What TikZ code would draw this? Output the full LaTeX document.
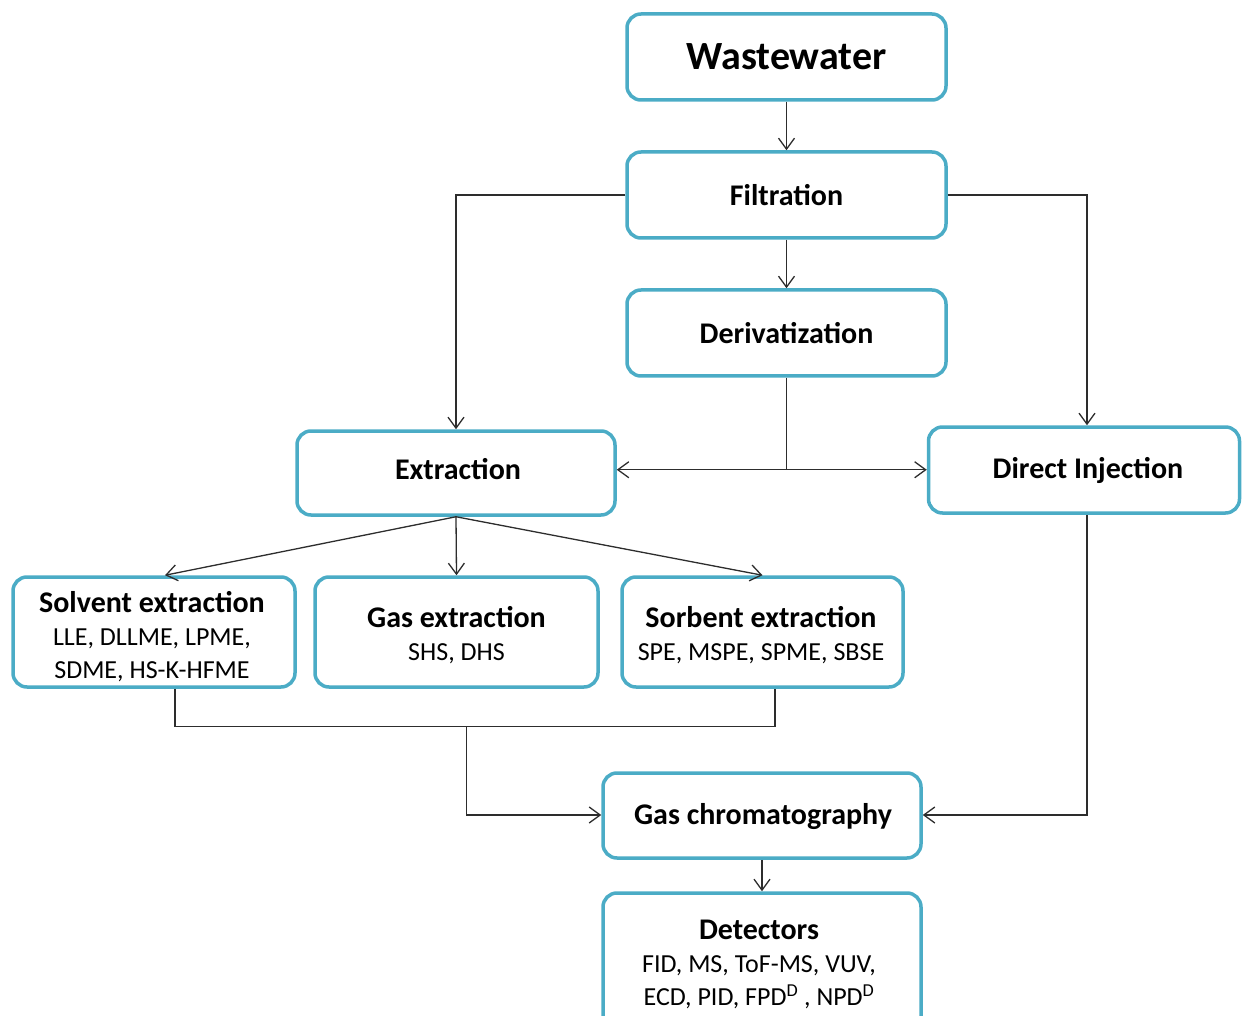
\documentclass[tikz,border=0pt]{standalone}
\usepackage{fontspec}
\setmainfont{Carlito}
\usetikzlibrary{arrows.meta,calc}
\definecolor{boxc}{RGB}{75,172,198}
\definecolor{linec}{RGB}{45,45,45}
\begin{document}
\begin{tikzpicture}[x=1pt,y=-1pt,
  box/.style={draw=boxc, line width=3.5pt, rounded corners=14pt, fill=white,
    align=center, inner sep=0pt, text=black, font=\fontsize{26}{33}\selectfont},
  txt/.style={align=center, inner sep=0pt, text=black, font=\fontsize{26}{33}\selectfont},
  ttl/.style={font=\fontsize{30}{34}\selectfont\bfseries},
  conn/.style={draw=linec, line width=1.3pt},
  arr/.style={conn, -{Straight Barb[length=11pt,width=16pt,line width=1.3pt]}}]
\useasboundingbox (0,0) rectangle (1243,1016);
\newcommand\hd[1]{\textbf{\fontsize{30}{33}\selectfont #1}}
% boxes
\node[box, minimum width=319, minimum height=86, font=\fontsize{40}{44}\selectfont\bfseries] (ww) at (786.5,57) {Wastewater};
\node[box, ttl, minimum width=319, minimum height=86] (filt) at (786.5,195) {Filtration};
\node[box, ttl, minimum width=319, minimum height=86] (deriv) at (786.5,333) {Derivatization};
\node[box, minimum width=318, minimum height=84] (ext) at (456,473) {};
\node[txt, ttl] (extt) at (458,469) {Extraction};
\node[box, minimum width=311, minimum height=86] (dinj) at (1084,470) {};
\node[txt, ttl] (dinjt) at (1088,470) {Direct Injection};
\node[box, minimum width=282, minimum height=110] (solv) at (154,632) {};
\node[txt] (solvt) at (152,637) {\hd{Solvent extraction}\\LLE, DLLME, LPME,\\SDME, HS-K-HFME};
\node[box, minimum width=283, minimum height=110] (gasx) at (456.5,632) {};
\node[txt] (gasxt) at (456.5,635) {\hd{Gas extraction}\\SHS, DHS};
\node[box, minimum width=281, minimum height=110] (sorb) at (762.5,632) {};
\node[txt] (sorbt) at (761,635) {\hd{Sorbent extraction}\\SPE, MSPE, SPME, SBSE};
\node[box, ttl, minimum width=318, minimum height=85] (gc) at (762,815.5) {};
\node[txt, ttl] (gct) at (763,816.5) {Gas chromatography};
\node[box, minimum width=318, minimum height=137] (det) at (762,961.5) {};
\node[txt] (dett) at (759,964) {\hd{Detectors}\\FID, MS, ToF-MS, VUV,\\ECD, PID, FPD\textsuperscript{D} , NPD\textsuperscript{D}};
% connectors
\draw[arr] (ww.south) -- (filt.north);
\draw[arr] (filt.south) -- (deriv.north);
\draw[arr] (filt.west) -| (ext.north);
\draw[arr] (filt.east) -| ($(dinj.north)+(3,0)$);
\coordinate (j) at ($(deriv.south)+(0,92)$);
\draw[conn] (deriv.south) -- (j);
\draw[arr] (j) -- (j -| ext.east);
\draw[arr] (j) -- (j -| dinj.west);
\draw[arr] (ext.south) -- ($(solv.north)+(11,0)$);
\draw[arr] (ext.south) -- (gasx.north);
\draw[arr] (ext.south) -- (sorb.north);
\coordinate (m) at ($(gasx.south)+(10,38)$);
\draw[conn] ($(solv.south)+(21,0)$) |- (m) -| ($(sorb.south)+(12.5,0)$);
\draw[arr] (m) |- ($(gc.west)+(0,-0.5)$);
\draw[arr] ($(dinj.south)+(3,0)$) |- ($(gc.east)+(0,-0.5)$);
\draw[arr] (gc.south) -- (det.north);
\end{tikzpicture}
\end{document}
